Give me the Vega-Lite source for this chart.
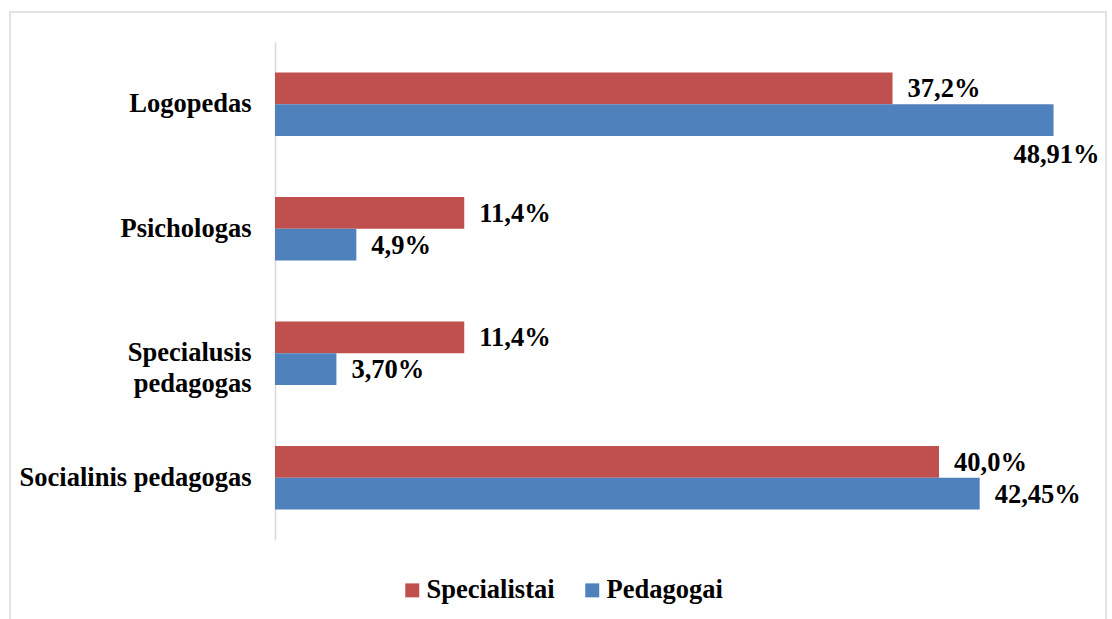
{
  "$schema": "https://vega.github.io/schema/vega-lite/v6.json",
  "autosize": "none",
  "padding": {"left": 10, "top": 12, "right": 6, "bottom": 0},
  "width": 1096,
  "height": 610,
  "background": "white",
  "config": {
    "view": {"stroke": "#d9d9d9", "strokeWidth": 1.5},
    "font": "'Liberation Serif', 'Times New Roman', serif"
  },
  "data": {
    "values": [
      {"category": "Logopedas", "series": "Specialistai", "value": 37.2, "label": "37,2%"},
      {"category": "Logopedas", "series": "Pedagogai", "value": 46.9, "label": "48,91%"},
      {"category": "Psichologas", "series": "Specialistai", "value": 11.4, "label": "11,4%"},
      {"category": "Psichologas", "series": "Pedagogai", "value": 4.9, "label": "4,9%"},
      {"category": "Specialusis pedagogas", "series": "Specialistai", "value": 11.4, "label": "11,4%"},
      {"category": "Specialusis pedagogas", "series": "Pedagogai", "value": 3.7, "label": "3,70%"},
      {"category": "Socialinis pedagogas", "series": "Specialistai", "value": 40.0, "label": "40,0%"},
      {"category": "Socialinis pedagogas", "series": "Pedagogai", "value": 42.45, "label": "42,45%"}
    ]
  },
  "encoding": {
    "y": {
      "field": "category",
      "type": "nominal",
      "sort": ["Logopedas", "Psichologas", "Specialusis pedagogas", "Socialinis pedagogas"],
      "scale": {"range": [30, 528], "paddingInner": 0.49, "paddingOuter": 0.245},
      "axis": {
        "title": null,
        "offset": -265,
        "domainColor": "#d9d9d9",
        "domainWidth": 1.5,
        "ticks": false,
        "grid": false,
        "labelPadding": 24,
        "labelFont": "'Liberation Serif', 'Times New Roman', serif",
        "labelFontSize": 26.5,
        "labelFontWeight": "bold",
        "labelColor": "black",
        "labelLineHeight": 31,
        "labelLimit": 400,
        "labelExpr": "datum.label == 'Specialusis pedagogas' ? ['Specialusis', 'pedagogas'] : datum.label"
      }
    },
    "yOffset": {
      "field": "series",
      "type": "nominal",
      "sort": ["Specialistai", "Pedagogai"]
    },
    "x": {
      "field": "value",
      "type": "quantitative",
      "scale": {"domain": [0, 50], "range": [265, 1095], "nice": false},
      "axis": null
    }
  },
  "layer": [
    {
      "mark": {"type": "bar"},
      "encoding": {
        "color": {
          "field": "series",
          "type": "nominal",
          "sort": ["Specialistai", "Pedagogai"],
          "scale": {"domain": ["Specialistai", "Pedagogai"], "range": ["#C0504D", "#4F81BD"]},
          "legend": {
            "title": null,
            "orient": "none",
            "direction": "horizontal",
            "legendX": 389,
            "legendY": 565,
            "symbolType": "square",
            "symbolSize": 196,
            "symbolStrokeWidth": 0,
            "labelFont": "'Liberation Serif', 'Times New Roman', serif",
            "labelFontSize": 26.5,
            "labelFontWeight": "bold",
            "labelColor": "black",
            "labelOffset": 1,
            "columnPadding": 24,
            "labelLimit": 300
          }
        }
      }
    },
    {
      "transform": [{"filter": "!(datum.category == 'Logopedas' && datum.series == 'Pedagogai')"}],
      "mark": {"type": "text", "align": "left", "baseline": "middle", "dx": 15, "dy": 1, "font": "'Liberation Serif', 'Times New Roman', serif", "fontSize": 26.5, "fontWeight": "bold", "color": "black"},
      "encoding": {"text": {"field": "label"}}
    },
    {
      "transform": [{"filter": "datum.category == 'Logopedas' && datum.series == 'Pedagogai'"}],
      "mark": {"type": "text", "align": "center", "baseline": "middle", "dx": 3, "dy": 35, "font": "'Liberation Serif', 'Times New Roman', serif", "fontSize": 26.5, "fontWeight": "bold", "color": "black"},
      "encoding": {"text": {"field": "label"}}
    }
  ]
}
